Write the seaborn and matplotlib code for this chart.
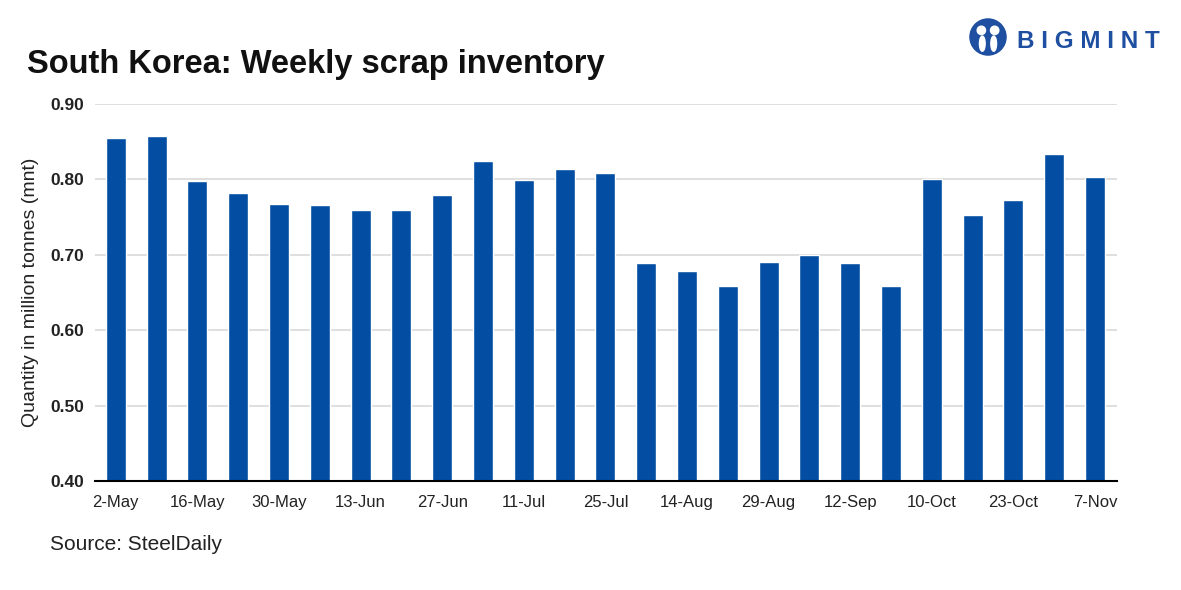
import matplotlib
matplotlib.use("Agg")
import matplotlib.pyplot as plt
import seaborn as sns
import pandas as pd
from matplotlib.patches import Circle, Ellipse

weeks = ["2-May", "9-May", "16-May", "23-May", "30-May", "6-Jun", "13-Jun", "20-Jun",
         "27-Jun", "4-Jul", "11-Jul", "18-Jul", "25-Jul", "7-Aug", "14-Aug", "22-Aug",
         "29-Aug", "5-Sep", "12-Sep", "26-Sep", "10-Oct", "17-Oct", "23-Oct", "31-Oct", "7-Nov"]
inventory = [0.855, 0.858, 0.798, 0.782, 0.767, 0.766, 0.759, 0.759, 0.779, 0.824,
             0.799, 0.814, 0.808, 0.689, 0.678, 0.659, 0.691, 0.700, 0.689, 0.659,
             0.800, 0.753, 0.773, 0.834, 0.803]
y_ticks = [0.40, 0.50, 0.60, 0.70, 0.80, 0.90]

df = pd.DataFrame({"week": weeks, "value": inventory})

sns.set_theme(style="white")
plt.rcParams["font.family"] = ["Liberation Sans", "DejaVu Sans"]

fig = plt.figure(figsize=(11.81, 5.90), dpi=100)
ax = fig.add_axes([95 / 1181, 1 - 481 / 590, (1117 - 95) / 1181, (481 - 104) / 590])

sns.barplot(data=df, x="week", y="value", color="#034ea2", saturation=1, width=0.49, ax=ax)

ax.set_ylim(0.40, 0.90)
ax.set_yticks(y_ticks)
ax.set_yticklabels([f"{v:.2f}" for v in y_ticks], fontsize=12.5, fontweight="bold", color="#222222")
ax.set_xticks(range(0, len(weeks), 2))
ax.set_xticklabels(weeks[::2], fontsize=12, color="#222222")
ax.set_xlim(-0.51, len(weeks) - 0.46)
ax.tick_params(axis="x", length=0, pad=10)
ax.tick_params(axis="y", length=0, pad=8)
ax.set_xlabel("")
ax.set_ylabel("Quantity in million tonnes (mnt)", fontsize=14, color="#222222", labelpad=8)
ax.yaxis.grid(True, color="#d9d9d9", linewidth=1.2)
ax.set_axisbelow(True)
for s in ["top", "right", "left"]:
    ax.spines[s].set_visible(False)
ax.spines["bottom"].set_color("black")
ax.spines["bottom"].set_linewidth(1.5)

fig.text(27 / 1181, 1 - 64 / 590, "South Korea: Weekly scrap inventory",
         fontsize=23.5, fontweight="bold", color="#111111", va="center", ha="left")
fig.text(50 / 1181, 1 - 545 / 590, "Source: SteelDaily", fontsize=15,
         color="#222222", va="center", ha="left")

# logo
fig.text(1017 / 1181, 1 - 41 / 590, "B I G M I N T", fontsize=17.5, fontweight="bold",
         color="#1f4fa0", va="center", ha="left")
lax = fig.add_axes([969 / 1181, 1 - 56 / 590, 38 / 1181, 38 / 590])
lax.set_xlim(-1, 1)
lax.set_ylim(-1, 1)
lax.set_aspect("equal")
lax.axis("off")
lax.add_patch(Circle((0, 0), 0.95, color="#1f4fa0"))
lax.add_patch(Circle((-0.35, 0.35), 0.22, color="white"))
lax.add_patch(Circle((0.35, 0.35), 0.22, color="white"))
lax.add_patch(Ellipse((-0.3, -0.35), 0.3, 0.8, color="white"))
lax.add_patch(Ellipse((0.3, -0.35), 0.3, 0.8, color="white"))

fig.savefig("out.png", dpi=100, facecolor="white")
